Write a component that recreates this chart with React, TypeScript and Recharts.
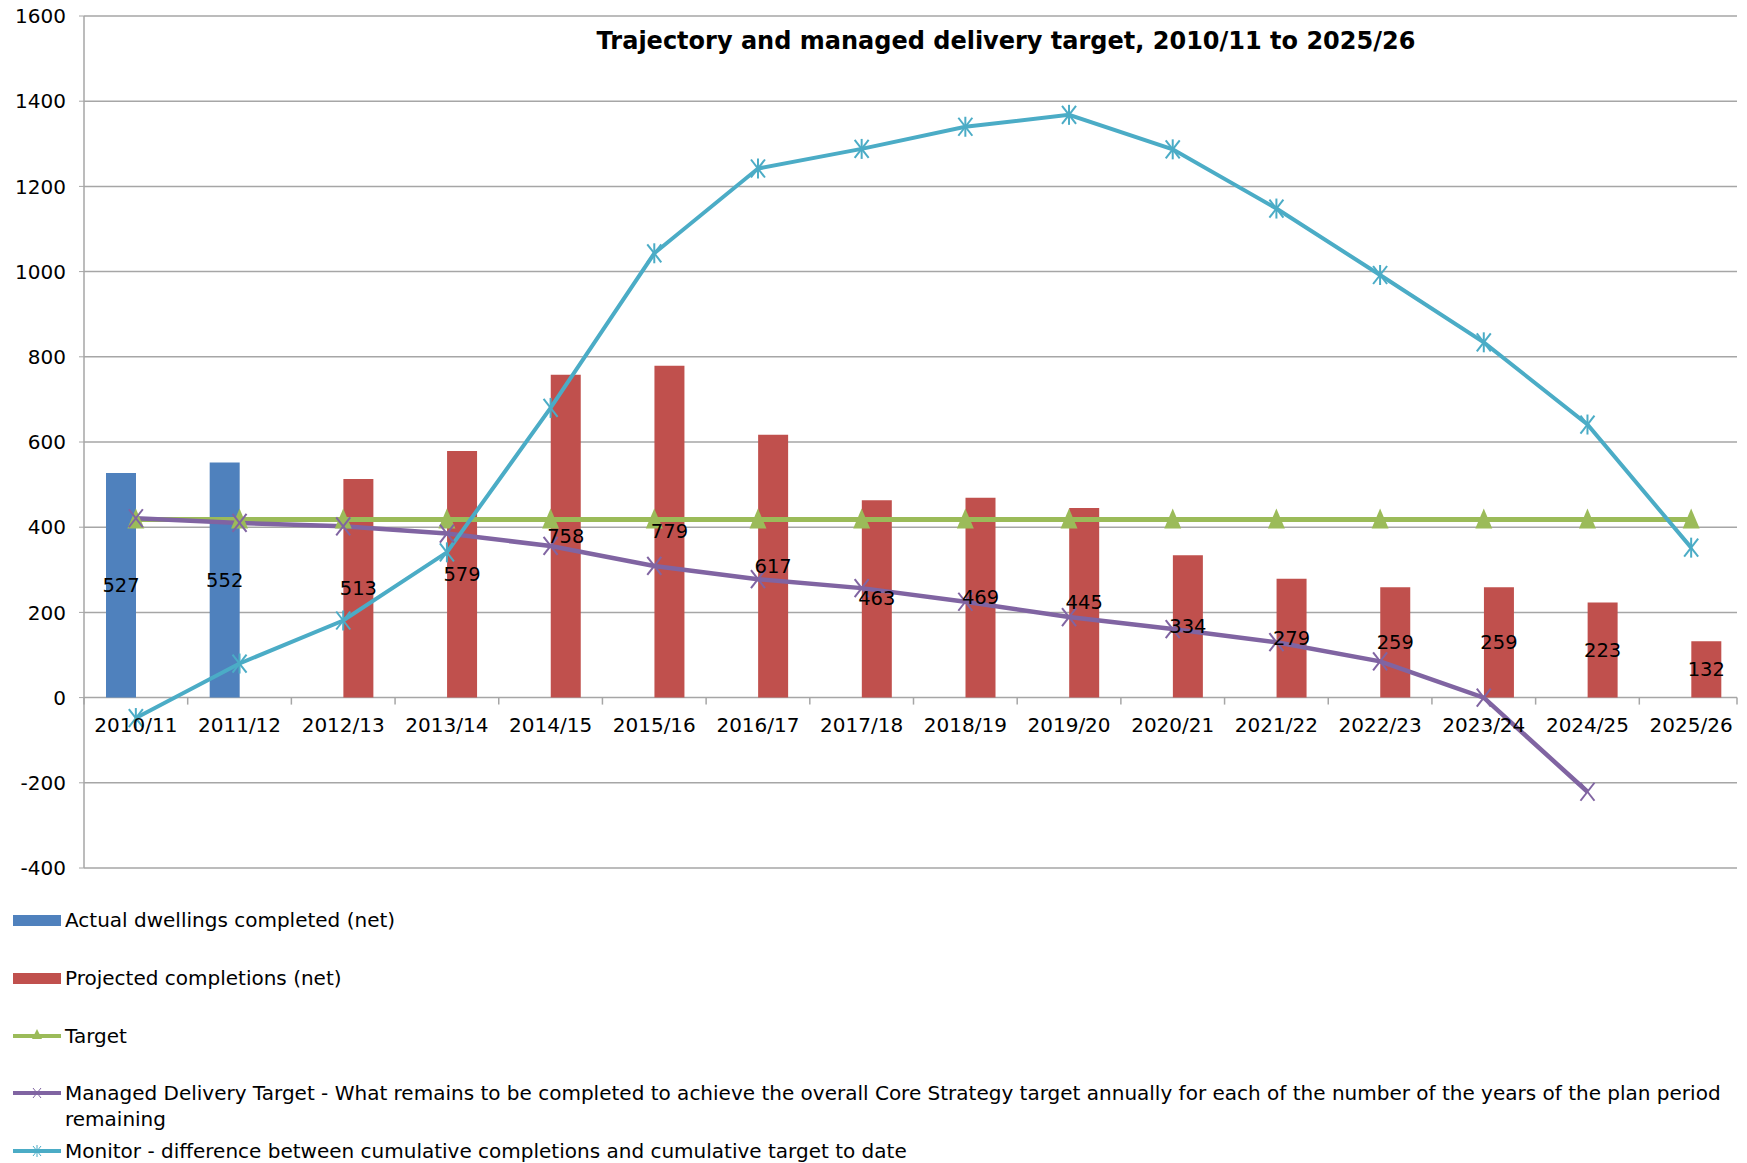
import React from 'react';
import {
  ComposedChart,
  Bar,
  Line,
  XAxis,
  YAxis,
  CartesianGrid,
  LabelList,
} from 'recharts';

// ---- data ----
const years = [
  '2010/11', '2011/12', '2012/13', '2013/14', '2014/15', '2015/16', '2016/17', '2017/18',
  '2018/19', '2019/20', '2020/21', '2021/22', '2022/23', '2023/24', '2024/25', '2025/26',
];
const actualCompleted = [527, 552, null, null, null, null, null, null, null, null, null, null, null, null, null, null];
const projectedCompletions = [null, null, 513, 579, 758, 779, 617, 463, 469, 445, 334, 279, 259, 259, 223, 132];
const targetValues = [418, 418, 418, 418, 418, 418, 418, 418, 418, 418, 418, 418, 418, 418, 418, 418];
const managedTarget = [421, 410, 402, 385, 356, 309, 278, 257, 225, 189, 161, 130, 85, 0, -221, null];
const monitorValues = [-48, 80, 181, 341, 680, 1043, 1242, 1288, 1340, 1368, 1287, 1148, 992, 834, 641, 352];
const yTicks = [-400, -200, 0, 200, 400, 600, 800, 1000, 1200, 1400, 1600];

const chartData = years.map((year, i) => ({
  year,
  actual: actualCompleted[i],
  projected: projectedCompletions[i],
  target: targetValues[i],
  managed: managedTarget[i],
  monitor: monitorValues[i],
}));

const BLUE = '#4F81BD';
const RED = '#C0504D';
const GREEN = '#9BBB59';
const PURPLE = '#8064A2';
const CYAN = '#4BACC6';
const GRID = '#a6a6a6';
const FONT = '"DejaVu Sans", Verdana, sans-serif';

const W = 1747;
const H = 898;
const X_AXIS_H = 30;
const MARGIN = { top: 16, right: 4, bottom: 0, left: 0 };
const Y_AXIS_W = 84;
const PLOT_H = H - MARGIN.top - MARGIN.bottom - X_AXIS_H;
const PLOT_W = W - MARGIN.left - MARGIN.right - Y_AXIS_W;
const BAND = PLOT_W / years.length;
const Y_MIN = -400;
const Y_MAX = 1600;

// category labels sit on the zero line, like the Excel original
const CategoryTick = (props: any) => {
  const { x, y, payload, index } = props;
  const zeroY = y - (PLOT_H * (0 - Y_MIN)) / (Y_MAX - Y_MIN);
  return (
    <g>
      <line x1={x - BAND / 2} x2={x - BAND / 2} y1={zeroY} y2={zeroY + 7} stroke={GRID} strokeWidth={1.5} />
      {index === years.length - 1 && (
        <line x1={x + BAND / 2 - 6} x2={x + BAND / 2 - 6} y1={zeroY} y2={zeroY + 7} stroke={GRID} strokeWidth={1.5} />
      )}
      <text x={x} y={zeroY + 27} textAnchor="middle" dominantBaseline="central" fontSize={20} fill="#000" fontFamily={FONT}>
        {payload.value}
      </text>
    </g>
  );
};

const TriangleDot = (props: any) => {
  const { cx, cy } = props;
  if (cy == null || isNaN(cy)) return null;
  return <polygon points={`${cx},${cy - 11} ${cx + 8.5},${cy + 9} ${cx - 8.5},${cy + 9}`} fill={GREEN} />;
};

const CrossDot = (props: any) => {
  const { cx, cy } = props;
  if (cy == null || isNaN(cy)) return null;
  return (
    <g stroke={PURPLE} strokeWidth={2}>
      <line x1={cx - 7} y1={cy - 9} x2={cx + 7} y2={cy + 9} />
      <line x1={cx - 7} y1={cy + 9} x2={cx + 7} y2={cy - 9} />
    </g>
  );
};

const StarDot = (props: any) => {
  const { cx, cy } = props;
  if (cy == null || isNaN(cy)) return null;
  return (
    <g stroke={CYAN} strokeWidth={2}>
      <line x1={cx - 7} y1={cy - 9} x2={cx + 7} y2={cy + 9} />
      <line x1={cx - 7} y1={cy + 9} x2={cx + 7} y2={cy - 9} />
      <line x1={cx} y1={cy - 10} x2={cx} y2={cy + 10} />
    </g>
  );
};

const BarValueLabel = (props: any) => {
  const { x, y, width, height, value } = props;
  if (value == null) return null;
  return (
    <text x={x + width / 2} y={y + height / 2} textAnchor="middle" dominantBaseline="central" fontSize={19.5} fill="#000" fontFamily={FONT}>
      {value}
    </text>
  );
};

const legendItems = [
  { name: 'Actual dwellings completed (net)', color: BLUE, kind: 'bar' },
  { name: 'Projected completions (net)', color: RED, kind: 'bar' },
  { name: 'Target', color: GREEN, kind: 'triangle' },
  {
    name: 'Managed Delivery Target -  What remains to be completed to achieve the overall Core Strategy target annually for each of the number of the years of the plan period remaining',
    color: PURPLE,
    kind: 'cross',
  },
  { name: 'Monitor - difference between cumulative completions and cumulative target to date', color: CYAN, kind: 'star' },
];

const LegendIcon = ({ color, kind }: { color: string; kind: string }) => (
  <svg width={50} height={26} style={{ flex: 'none' }}>
    {kind === 'bar' ? (
      <rect x={1} y={8} width={48} height={11} fill={color} />
    ) : (
      <g>
        <line x1={1} x2={49} y1={13} y2={13} stroke={color} strokeWidth={4} />
        {kind === 'triangle' && <polygon points="25,6 30,16 20,16" fill={color} />}
        {kind !== 'triangle' && (
          <g stroke={color} strokeWidth={1}>
            <line x1={21} y1={8} x2={29} y2={18} />
            <line x1={21} y1={18} x2={29} y2={8} />
            {kind === 'star' && <line x1={25} y1={7} x2={25} y2={19} />}
          </g>
        )}
      </g>
    )}
  </svg>
);

export default function App() {
  return (
    <div style={{ position: 'absolute', left: 0, top: 0, width: W, height: 1163, background: '#fff', fontFamily: FONT }}>
      <ComposedChart width={W} height={H} data={chartData} margin={MARGIN} barGap={0}>
        <CartesianGrid vertical={false} stroke={GRID} strokeWidth={1.5} width={PLOT_W - 6} />
        <XAxis
          dataKey="year"
          height={X_AXIS_H}
          axisLine={false}
          tickLine={false}
          tickSize={0}
          tickMargin={0}
          interval={0}
          tick={<CategoryTick />}
        />
        <YAxis
          width={Y_AXIS_W}
          domain={[Y_MIN, Y_MAX]}
          ticks={yTicks}
          interval={0}
          axisLine={{ stroke: GRID, strokeWidth: 1.5 }}
          tickLine={{ stroke: GRID }}
          tickSize={5}
          tickMargin={13}
          tick={{ fontSize: 20, fill: '#000', fontFamily: FONT }}
        />
        <Bar dataKey="actual" name="Actual dwellings completed (net)" fill={BLUE} barSize={30} isAnimationActive={false}>
          <LabelList dataKey="actual" content={<BarValueLabel />} />
        </Bar>
        <Bar dataKey="projected" name="Projected completions (net)" fill={RED} barSize={30} isAnimationActive={false}>
          <LabelList dataKey="projected" content={<BarValueLabel />} />
        </Bar>
        <Line
          type="linear"
          dataKey="target"
          name="Target"
          stroke={GREEN}
          strokeWidth={5}
          dot={<TriangleDot />}
          activeDot={false}
          isAnimationActive={false}
        />
        <Line
          type="linear"
          dataKey="managed"
          name="Managed Delivery Target"
          stroke={PURPLE}
          strokeWidth={4.5}
          dot={<CrossDot />}
          activeDot={false}
          isAnimationActive={false}
        />
        <Line
          type="linear"
          dataKey="monitor"
          name="Monitor"
          stroke={CYAN}
          strokeWidth={4}
          dot={<StarDot />}
          activeDot={false}
          isAnimationActive={false}
        />
      </ComposedChart>
      <div
        style={{
          position: 'absolute',
          left: 1006 - 600,
          top: 27,
          width: 1200,
          textAlign: 'center',
          fontSize: 24,
          lineHeight: '28px',
          fontWeight: 'bold',
          color: '#000',
        }}
      >
        Trajectory and managed delivery target, 2010/11 to 2025/26
      </div>
      {legendItems.map((item, i) => (
        <div
          key={item.name}
          style={{
            position: 'absolute',
            left: 12,
            top: 907 + i * 58 - (i >= 3 ? 1 : 0),
            width: 1720,
            display: 'flex',
            alignItems: 'flex-start',
            fontSize: 20,
            lineHeight: '26px',
            color: '#000',
          }}
        >
          <LegendIcon color={item.color} kind={item.kind} />
          <span style={{ marginLeft: 3 }}>{item.name}</span>
        </div>
      ))}
    </div>
  );
}
